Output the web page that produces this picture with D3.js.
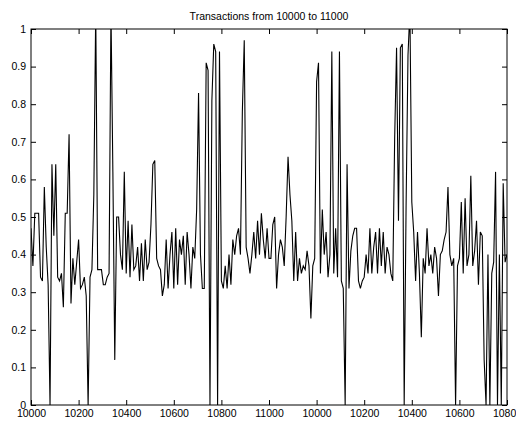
<!DOCTYPE html>
<html>
<head>
<meta charset="utf-8">
<script src="https://cdn.jsdelivr.net/npm/d3@7"></script>
<style>
	body { margin: 0; background: #fff; }
	svg { display: block; font-family: "Liberation Sans", Arial, sans-serif; }
</style>
</head>
<body>
<div id="canvas"></div>
<script>
/**
 * Transactions plot
 */

var title = 'Transactions from 10000 to 11000';

// one value every 8 transactions
var step = 8;
var txValues = [
	0.47,0.37,0.51,0.51,0.51,0.34,0.33,0.58,0.42,0.32,
	0.0,0.64,0.45,0.64,0.34,0.33,0.35,0.26,0.51,0.51,
	0.72,0.27,0.39,0.32,0.38,0.44,0.31,0.32,0.34,0.29,
	0.0,0.34,0.36,0.56,1.05,0.36,0.36,0.36,0.32,0.32,
	0.34,0.35,1.05,0.62,0.12,0.50,0.50,0.40,0.36,0.62,
	0.35,0.49,0.34,0.48,0.36,0.37,0.42,0.33,0.43,0.33,
	0.44,0.36,0.38,
	0.48,0.64,0.65,0.39,0.37,0.36,0.29,0.32,0.44,0.31,
	0.40,0.46,0.31,0.47,0.32,0.44,0.40,0.45,0.32,0.46,
	0.40,0.31,0.42,0.39,0.52,0.83,0.40,0.31,0.31,0.91,
	0.89,0.0,0.81,0.96,0.94,0.0,0.94,0.33,0.31,0.37,
	0.31,0.40,0.32,0.44,0.40,0.45,0.47,0.40,0.78,0.97,
	0.42,0.39,0.35,0.40,0.46,0.39,0.49,0.40,0.51,0.44,
	0.39,0.47,0.39,
	0.39,0.48,0.50,0.31,0.40,0.44,0.42,0.37,0.50,0.66,
	0.56,0.49,0.33,0.46,0.33,0.39,0.35,0.37,0.36,0.41,
	0.37,0.23,0.37,0.39,0.86,0.91,0.35,0.52,0.40,0.46,
	0.34,0.40,0.94,0.35,0.47,0.34,0.94,0.33,0.31,0.0,
	0.64,0.31,0.41,0.45,0.47,0.47,0.33,0.31,0.33,0.34,
	0.40,0.35,0.47,0.35,0.42,0.46,0.35,0.47,0.37,0.46,
	0.35,0.42,0.40,
	0.35,0.33,0.71,0.95,0.49,0.95,0.96,0.0,0.53,0.93,
	1.05,0.54,0.46,0.33,0.46,0.35,0.18,0.39,0.35,0.47,
	0.37,0.40,0.35,0.42,0.39,0.29,0.40,0.41,0.44,0.46,
	0.58,0.40,0.37,0.39,0.0,0.37,0.39,0.54,0.35,0.55,
	0.37,0.40,0.61,0.37,0.41,0.49,0.32,0.46,0.45,0.12,
	0.0,0.40,0.0,0.35,0.38,0.62,0.0,0.40,0.0,0.59,
	0.38,0.40
];

var xTickValues = [0, 200, 400, 600, 800, 1000, 1200, 1400, 1600, 1800, 2000];
var xTickLabels = ['10000', '10200', '10400', '10600', '10800', '11000',
	'10000', '10200', '10400', '10600', '10800'];
var yTickValues = [0, 0.1, 0.2, 0.3, 0.4, 0.5, 0.6, 0.7, 0.8, 0.9, 1];

var width = 516,
	height = 421,
	margin = { top: 29, right: 9, bottom: 16, left: 31 },
	fontSize = 10.5;

var svg = d3.select('#canvas').append('svg')
	.attr('width', width)
	.attr('height', height);

var x = d3.scaleLinear().domain([0, 2000]).range([margin.left, width - margin.right]),
	y = d3.scaleLinear().domain([0, 1]).range([height - margin.bottom, margin.top]);

// keep spikes inside the box
svg.append('clipPath').attr('id', 'plot-clip')
	.append('rect')
	.attr('x', x(0)).attr('y', y(1))
	.attr('width', x(2000) - x(0)).attr('height', y(0) - y(1));

var line = d3.line()
	.x(function(d, i) { return x(i * step); })
	.y(function(d) { return y(d); });

svg.append('path')
	.datum(txValues)
	.attr('clip-path', 'url(#plot-clip)')
	.attr('fill', 'none')
	.attr('stroke', '#000')
	.attr('stroke-width', 1.1)
	.attr('stroke-linejoin', 'miter')
	.attr('d', line);

// axes, MATLAB style: ticks inside on all four sides
function styleAxis(g) {
	g.select('.domain').remove();
	g.selectAll('line').attr('stroke', '#000');
	g.selectAll('text').attr('font-size', fontSize).attr('fill', '#000')
		.attr('font-family', '"Liberation Sans", Arial, sans-serif');
}

svg.append('g')
	.attr('transform', 'translate(0,' + y(0) + ')')
	.call(d3.axisBottom(x).tickValues(xTickValues)
		.tickFormat(function(d, i) { return xTickLabels[i]; })
		.tickSizeInner(-5).tickSizeOuter(0).tickPadding(5))
	.call(styleAxis);

svg.append('g')
	.attr('transform', 'translate(0,' + y(1) + ')')
	.call(d3.axisTop(x).tickValues(xTickValues).tickFormat('')
		.tickSizeInner(-5).tickSizeOuter(0))
	.call(styleAxis);

svg.append('g')
	.attr('transform', 'translate(' + x(0) + ',0)')
	.call(d3.axisLeft(y).tickValues(yTickValues)
		.tickFormat(function(d) { return d3.format('~g')(d); })
		.tickSizeInner(-5).tickSizeOuter(0).tickPadding(5))
	.call(styleAxis);

svg.append('g')
	.attr('transform', 'translate(' + x(2000) + ',0)')
	.call(d3.axisRight(y).tickValues(yTickValues).tickFormat('')
		.tickSizeInner(-5).tickSizeOuter(0))
	.call(styleAxis);

// box
svg.append('rect')
	.attr('x', x(0)).attr('y', y(1))
	.attr('width', x(2000) - x(0)).attr('height', y(0) - y(1))
	.attr('fill', 'none')
	.attr('stroke', '#000')
	.attr('stroke-width', 1);

svg.append('text')
	.attr('x', (x(0) + x(2000)) / 2)
	.attr('y', 20)
	.attr('text-anchor', 'middle')
	.attr('font-size', fontSize)
	.text(title);
</script>
</body>
</html>
